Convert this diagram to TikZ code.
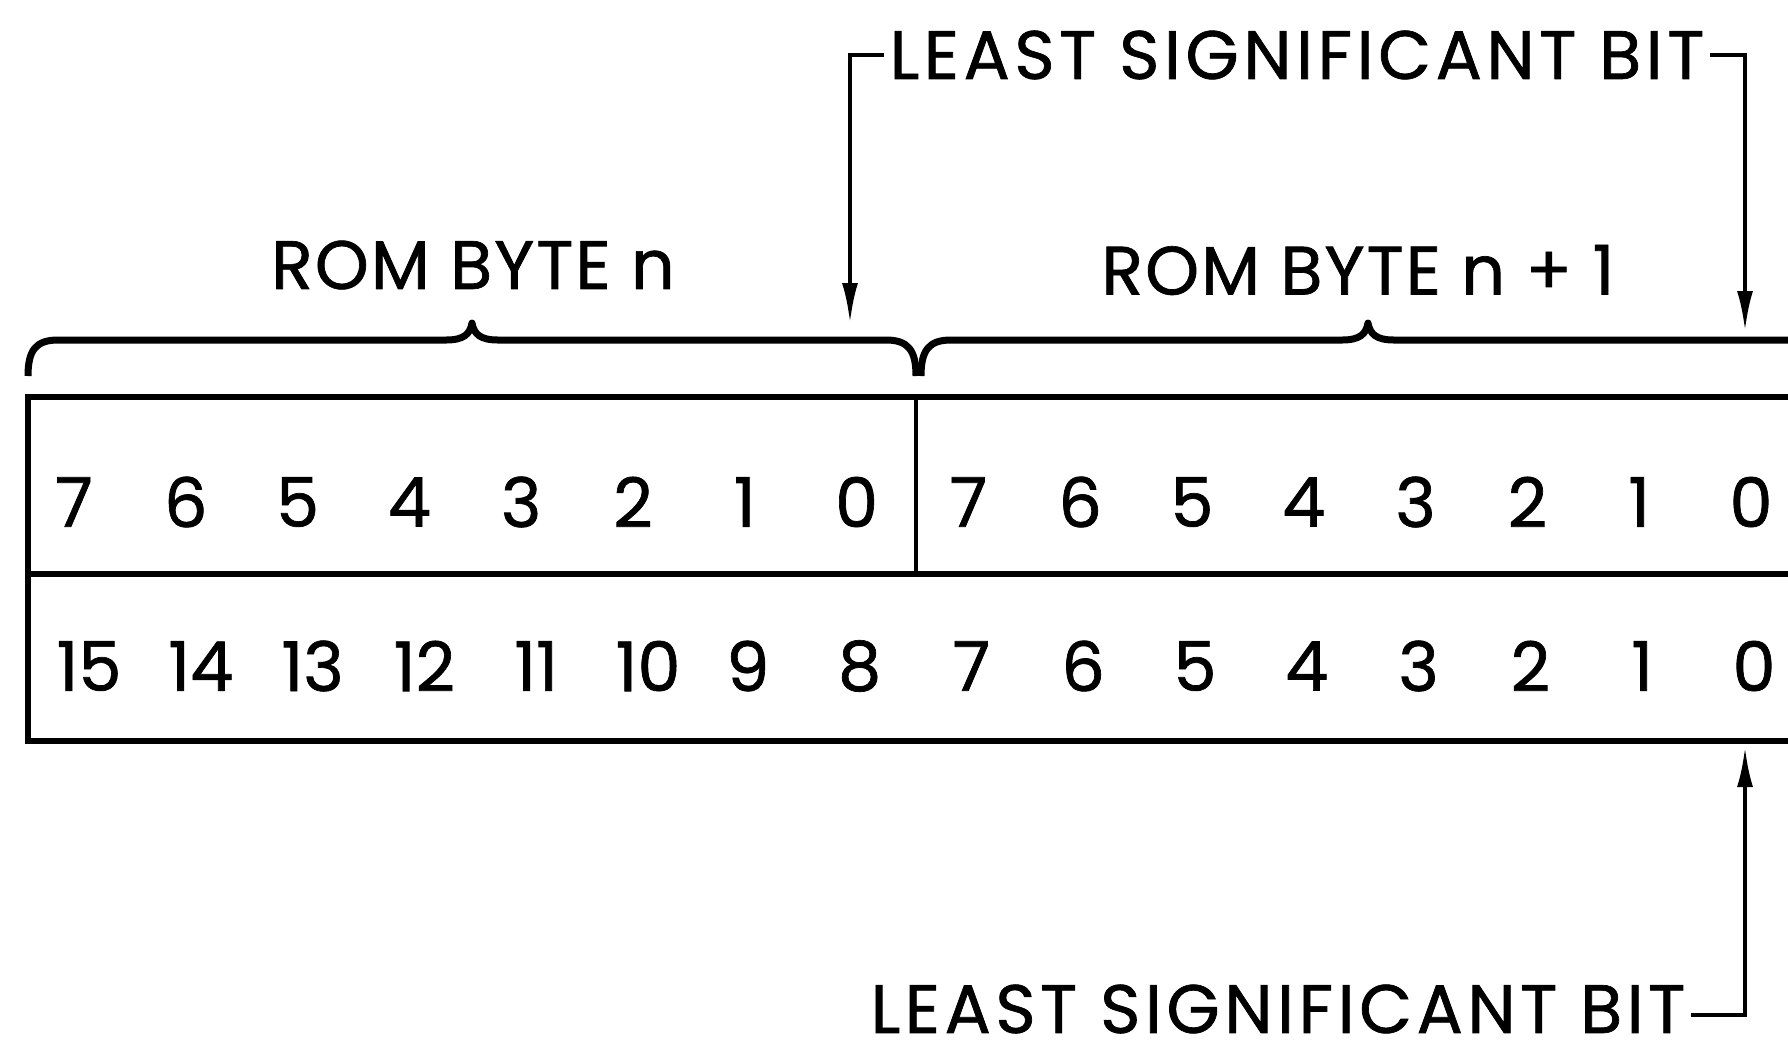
\documentclass[tikz,border=0pt]{standalone}
\usepackage{fontspec}
\setmainfont{Poppins}[FakeBold=1]
\usetikzlibrary{arrows.meta}
\tikzset{
  >={Latex[length=4mm,width=1.6mm]},
  txt/.style={inner sep=1.5pt, font=\fontsize{19.5}{23}\selectfont\addfontfeatures{LetterSpace=3}},
  lsbtxt/.style={inner sep=1.5pt, font=\fontsize{19.5}{23}\selectfont\addfontfeatures{LetterSpace=6.7}},
  bitno/.style={inner sep=0pt, font=\fontsize{19.5}{23}\selectfont},
  wall/.style={line width=0.6mm},
  divider/.style={line width=0.4mm},
  pointer/.style={line width=0.4mm},
  bracestroke/.style={line width=0.7mm, line join=round}
}
% brace over a byte: left x, right x, y of the curled ends
\newcommand{\rombrace}[3]{%
  \draw[bracestroke] (#1,#3)
    .. controls (#1,{#3-26}) and ({#1+8},{#3-36}) .. ({#1+30},{#3-36})
    -- ({(#1+#2)/2-26},{#3-36})
    .. controls ({(#1+#2)/2-8},{#3-36}) and ({(#1+#2)/2-2},{#3-42}) .. ({(#1+#2)/2},{#3-53})
    .. controls ({(#1+#2)/2+2},{#3-42}) and ({(#1+#2)/2+8},{#3-36}) .. ({(#1+#2)/2+26},{#3-36})
    -- ({#2-30},{#3-36})
    .. controls ({#2-8},{#3-36}) and (#2,{#3-26}) .. (#2,#3);}

\begin{document}
\begin{tikzpicture}[x=0.1mm, y=-0.1mm]
  \useasboundingbox (0,0) rectangle (1788,1055);
  \clip (0,0) rectangle (1788,1055);

  % register
  \draw[wall] (1800,397) -- (28,397) -- (28,741) -- (1800,741);
  \draw[wall] (28,574) -- (1800,574);
  \draw[divider] (916,397) -- (916,574);

  % bit numbers
  \foreach \i in {0,...,15} {
    \pgfmathtruncatemacro\lo{mod(15-\i,8)}
    \pgfmathtruncatemacro\hi{15-\i}
    \pgfmathsetmacro\dx{\hi>9 ? 15 : 3}
    \node[bitno] (top\i) at ({74+111.8*\i},502) {\lo};
    \node[bitno] (bot\i) at ({74+111.8*\i+\dx},666) {\hi};
  }

  % byte braces
  \rombrace{28}{916}{376}
  \rombrace{921}{1815}{376}
  \node[txt] (bytelo) at (473,265) {ROM BYTE n};
  \node[txt] (bytehi) at (1358,270) {ROM BYTE n + 1};

  % least significant bit pointers
  \node[lsbtxt] (lsbtop) at (1297,55) {LEAST SIGNIFICANT BIT};
  \node[lsbtxt] (lsbbot) at (1278,1009) {LEAST SIGNIFICANT BIT};
  \coordinate (tipA) at (850,323);
  \coordinate (tipB) at (1745,331);
  \coordinate (tipC) at (1745,747);
  \draw[pointer,->] (lsbtop.west) -| (tipA);
  \draw[pointer,->] (lsbtop.east) -| (tipB);
  \draw[pointer,->] ([yshift=-0.6mm]lsbbot.east) -| (tipC);
\end{tikzpicture}
\end{document}
